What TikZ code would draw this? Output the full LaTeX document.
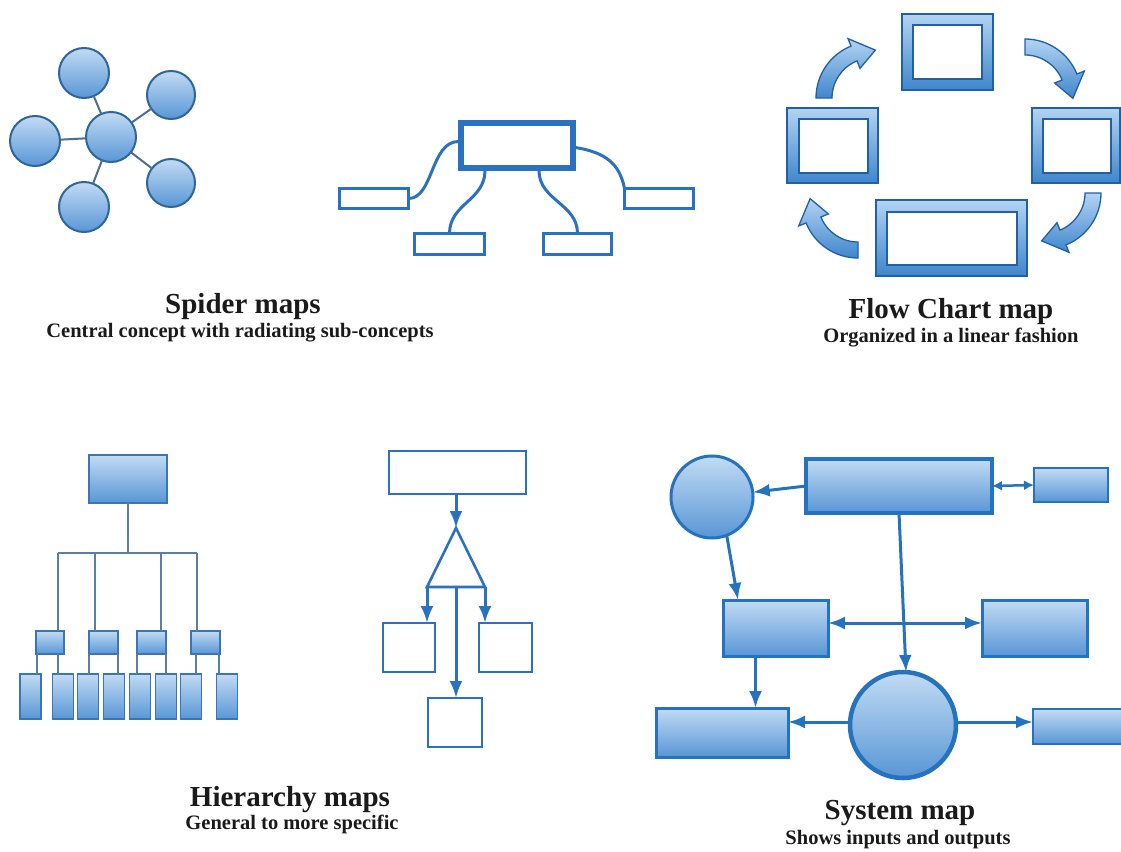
\documentclass[tikz,border=0pt]{standalone}
\usepackage{fontspec}
\setmainfont{Liberation Serif}
\usetikzlibrary{arrows.meta,calc}
\definecolor{fillTop}{HTML}{C2DBF3}
\definecolor{fillBot}{HTML}{5896D6}
\definecolor{spiderline}{HTML}{2F6699}
\definecolor{spokecol}{HTML}{4F6E8E}
\definecolor{mtblue}{HTML}{2A72BF}
\definecolor{flowline}{HTML}{2160A3}
\definecolor{frameTop}{HTML}{B3D3F2}
\definecolor{frameBot}{HTML}{3F86CC}
\definecolor{hierline}{HTML}{5C7EA5}
\definecolor{hierborder}{HTML}{3B75B5}
\definecolor{sysblue}{HTML}{2572BE}
\definecolor{txt}{HTML}{1A1A1A}
\begin{document}
\begin{tikzpicture}[x=1pt,y=-1pt,
  spiderc/.style={circle,draw=spiderline,line width=2pt,top color=fillTop,bottom color=fillBot,minimum size=#1,inner sep=0pt,outer sep=0pt},
  spoke/.style={draw=spokecol,line width=2pt},
  mtbox/.style={draw=mtblue,line width=3pt,fill=white,inner sep=0pt,outer sep=0pt},
  mtlink/.style={draw=mtblue,line width=3pt},
  frameouter/.style={draw=flowline,line width=1.5pt,top color=frameTop,bottom color=frameBot,inner sep=0pt,outer sep=0pt},
  frameinner/.style={draw=flowline,line width=1.5pt,fill=white,inner sep=0pt,outer sep=0pt},
  arrowshade/.style={draw=flowline,line width=1.3pt,top color=frameTop,bottom color=frameBot},
  hbox/.style={draw=hierborder,line width=1.3pt,top color=fillTop,bottom color=fillBot,inner sep=0pt,outer sep=0pt},
  hline/.style={draw=hierline,line width=1.5pt},
  fbox/.style={draw=mtblue,line width=2.2pt,fill=white,inner sep=0pt,outer sep=0pt},
  farrow/.style={draw=mtblue,line width=3pt,-{Latex[length=17pt,width=13pt]}},
  sbox/.style={draw=sysblue,line width=3pt,top color=fillTop,bottom color=fillBot,inner sep=0pt,outer sep=0pt},
  scirc/.style={circle,draw=sysblue,line width=3pt,top color=fillTop,bottom color=fillBot,inner sep=0pt,outer sep=0pt},
  sarrow/.style={draw=sysblue,line width=3pt,-{Latex[length=17pt,width=13pt]}},
  sdarrow/.style={draw=sysblue,line width=3pt,{Latex[length=17pt,width=13pt]}-{Latex[length=17pt,width=13pt]}},
  ssmall/.style={draw=sysblue,line width=2.5pt,{Latex[length=10pt,width=10pt]}-{Latex[length=10pt,width=10pt]}},
  title/.style={anchor=base,text=txt,font=\bfseries\fontsize{29}{32}\selectfont,inner sep=0pt},
  subtitle/.style={anchor=base,text=txt,font=\bfseries\fontsize{20.5}{23}\selectfont,inner sep=0pt}
]
\useasboundingbox (0,0) rectangle (1121,851);
\fill[white] (0,0) rectangle (1121,851);

% ---------------- Spider map ----------------
\node[spiderc=50pt] (sc) at (111,137) {};
\node[spiderc=50pt] (s1) at (84,73) {};
\node[spiderc=48pt] (s2) at (171,95) {};
\node[spiderc=50pt] (s3) at (35,141) {};
\node[spiderc=48pt] (s4) at (171,183) {};
\node[spiderc=50pt] (s5) at (84,207) {};
\draw[spoke] (sc) -- (s1);
\draw[spoke] (sc) -- (s2);
\draw[spoke] (sc) -- (s3);
\draw[spoke] (sc) -- (s4);
\draw[spoke] (sc) -- (s5);

% ---------------- Middle top ----------------
\node[mtbox,line width=5.5pt,minimum width=112pt,minimum height=45pt] (mt) at (517,145.5) {};
\node[mtbox,minimum width=69pt,minimum height=20pt] (ml) at (374,198.5) {};
\node[mtbox,minimum width=69pt,minimum height=20pt] (mr) at (659,198.5) {};
\node[mtbox,minimum width=70pt,minimum height=21pt] (mbl) at (449.5,244) {};
\node[mtbox,minimum width=68pt,minimum height=21pt] (mbr) at (577.5,244) {};
\draw[mtlink] ($(mt.west)+(-2.5,-4)$) .. controls +(-28,0) and +(25,0) .. (ml.east);
\draw[mtlink] ($(mt.east)+(2.5,2)$) .. controls +(30,5) and +(-5,-25) .. (mr.north west);
\draw[mtlink] ($(mt.south)+(-32,2.5)$) .. controls +(0,30) and +(0,-30) .. (mbl.north);
\draw[mtlink] ($(mt.south)+(22,2.5)$) .. controls +(0,30) and +(0,-30) .. (mbr.north);

% ---------------- Flow chart ----------------
\node[frameouter,minimum width=91pt,minimum height=76pt] (f1) at (947.5,52) {};
\node[frameinner,minimum width=69pt,minimum height=54pt] (f1i) at (947.5,52) {};
\node[frameouter,minimum width=91pt,minimum height=75pt] (f2) at (832.5,145.5) {};
\node[frameinner,minimum width=69pt,minimum height=54pt] (f2i) at (833.5,146) {};
\node[frameouter,minimum width=88pt,minimum height=75pt] (f3) at (1076,145.5) {};
\node[frameinner,minimum width=68pt,minimum height=54pt] (f3i) at (1077,146) {};
\node[frameouter,minimum width=151pt,minimum height=76pt] (f4) at (951.5,238) {};
\node[frameinner,minimum width=130pt,minimum height=53pt] (f4i) at (952,238.5) {};
\newcommand{\flowarr}[3]{%
  \begin{scope}[shift={(#1,#2)}]
  \shadedraw[arrowshade] (#3:56) arc[start angle=#3,delta angle=68,radius=56]
     -- (#3+68:64) -- (#3+94:48) -- (#3+68:32) -- (#3+68:40)
     arc[start angle=#3+68,delta angle=-68,radius=40] -- cycle;
  \end{scope}}
\flowarr{872}{98}{180}
\flowarr{1025}{95}{270}
\flowarr{1045}{193}{0}
\flowarr{858}{202}{90}

% ---------------- Hierarchy ----------------
\node[hbox,minimum width=78pt,minimum height=48pt] (h0) at (128,479) {};
\node[hbox,minimum width=28pt,minimum height=23pt] (h1) at (50,642.5) {};
\node[hbox,minimum width=29pt,minimum height=23pt] (h2) at (103.5,642.5) {};
\node[hbox,minimum width=29pt,minimum height=23pt] (h3) at (151.5,642.5) {};
\node[hbox,minimum width=29pt,minimum height=23pt] (h4) at (205.5,642.5) {};
\foreach \n/\x in {1/30.5,2/63,3/88,4/114,5/140,6/166,7/191,8/227}{
  \node[hbox,minimum width=21pt,minimum height=45pt] (b\n) at (\x,696.5) {};
}
\coordinate (hj) at ($(h0.south)+(0,50)$);
\coordinate (v1) at ($(h1.north west)+(22,0)$);
\coordinate (v2) at ($(h2.north west)+(6,0)$);
\coordinate (v3) at ($(h3.north west)+(24,0)$);
\coordinate (v4) at ($(h4.north west)+(6,0)$);
\draw[hline] (h0.south) -- (hj);
\draw[hline] (v1 |- hj) -- (v4 |- hj);
\draw[hline] (v1 |- hj) -- (v1);
\draw[hline] (v2 |- hj) -- (v2);
\draw[hline] (v3 |- hj) -- (v3);
\draw[hline] (v4 |- hj) -- (v4);
\draw[hline] ($(h1.south west)+(0.8,0)$) -- ($(h1.south west |- b1.north)+(0.8,0)$);
\draw[hline] ($(h1.south west)+(22,0)$) -- ($(h1.south west |- b2.north)+(22,0)$);
\draw[hline] (h2.south west) -- (h2.south west |- b3.north);
\draw[hline] (h2.south east) -- (h2.south east |- b4.north);
\draw[hline] (h3.south west) -- (h3.south west |- b5.north);
\draw[hline] (h3.south east) -- (h3.south east |- b6.north);
\draw[hline] ($(h4.south west)+(5,0)$) -- ($(h4.south west |- b7.north)+(5,0)$);
\draw[hline] ($(h4.south east)+(-0.8,0)$) -- ($(h4.south east |- b8.north)+(-0.8,0)$);

% ---------------- Middle bottom ----------------
\node[fbox,line width=2.6pt,minimum width=137pt,minimum height=43pt] (mb0) at (457.5,472.5) {};
\node[fbox,minimum width=52pt,minimum height=49pt] (mb1) at (409,647.5) {};
\node[fbox,minimum width=53pt,minimum height=49pt] (mb2) at (505.5,647.5) {};
\node[fbox,minimum width=54pt,minimum height=49pt] (mb3) at (455,722.5) {};
\coordinate (ta) at (456,528);
\coordinate (tl) at (427,587);
\coordinate (tr) at (485,587);
\coordinate (tm) at (456,587);
\draw[mtblue,line width=2.6pt,line join=miter] (tl) -- (ta) -- (tr) -- cycle;
\draw[farrow] (mb0.south -| ta) -- (ta);
\draw[farrow] (tl) -- (tl |- mb1.north);
\draw[farrow] (tr) -- (tr |- mb2.north);
\draw[farrow] (tm) -- (tm |- mb3.north);

% ---------------- System map ----------------
\node[scirc,minimum size=82pt] (c1) at (712,497) {};
\node[sbox,line width=4pt,minimum width=186pt,minimum height=54pt] (t1) at (899,486) {};
\node[sbox,line width=2.5pt,minimum width=74pt,minimum height=34pt] (q1) at (1071,485) {};
\node[sbox,minimum width=105pt,minimum height=56pt] (m1) at (775.5,628) {};
\node[sbox,minimum width=105pt,minimum height=56pt] (m2) at (1034.5,628) {};
\node[scirc,line width=4.5pt,minimum size=106pt] (c2) at (903,725) {};
\node[sbox,minimum width=132pt,minimum height=49pt] (sb1) at (722,732.5) {};
\node[sbox,line width=2.5pt,minimum width=92pt,minimum height=35pt] (sb2) at (1079,726.5) {};
\draw[sarrow] (t1.west) -- (c1);
\draw[sarrow] (c1.-69) -- ($(m1.north west)+(15,0)$);
\draw[sarrow] (t1.south) -- ($(c2.north)+(3,0)$);
\draw[sdarrow] ([yshift=5pt]m1.east) -- ([yshift=5pt]m2.west);
\draw[sarrow] ($(m1.south)+(-20,0)$) -- ($(m1.south |- sb1.north)+(-20,0)$);
\draw[sarrow] ([yshift=3pt]c2.west) -- ([yshift=3pt]c2.west -| sb1.east);
\draw[sarrow] ([yshift=3pt]c2.east) -- ([yshift=3pt]c2.east -| sb2.west);
\draw[ssmall] (t1.east) -- (q1.west);

% ---------------- Labels ----------------
\node[title] (lt1) at (243,313) {Spider maps};
\node[subtitle] (ls1) at (240,337) {Central concept with radiating sub-concepts};
\node[title] (lt2) at (951,318) {Flow Chart map};
\node[subtitle] (ls2) at (951,342) {Organized in a linear fashion};
\node[title] (lt3) at (290,806) {Hierarchy maps};
\node[subtitle] (ls3) at (292,829) {General to more specific};
\node[title] (lt4) at (900,819) {System map};
\node[subtitle] (ls4) at (898,844) {Shows inputs and outputs};
\end{tikzpicture}
\end{document}
